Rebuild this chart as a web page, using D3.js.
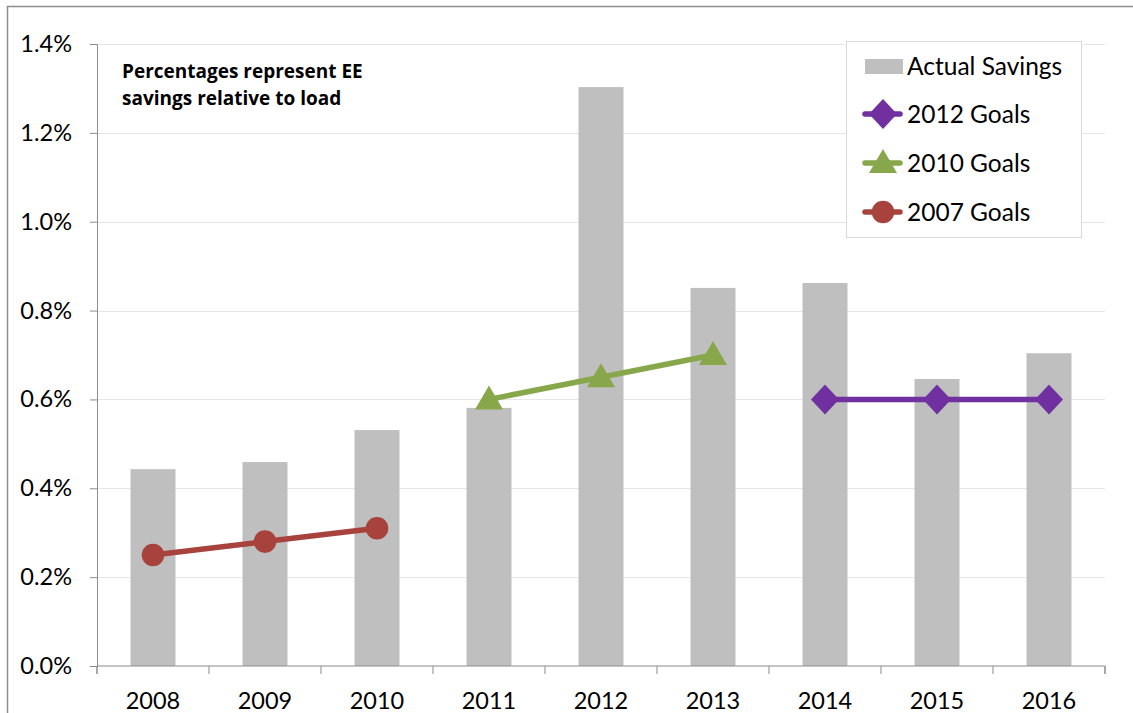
<!DOCTYPE html>
<html><head><meta charset="utf-8">
<script src="https://cdn.jsdelivr.net/npm/d3@7"></script>
<style>body{margin:0;background:#fff}svg{display:block}</style>
</head><body><svg id="c" width="1133" height="713"></svg>
<script>
const years = ["2008","2009","2010","2011","2012","2013","2014","2015","2016"];
const actualSavings = [0.443,0.459,0.531,0.581,1.303,0.851,0.862,0.646,0.704];
const goals2007Years = ["2008","2009","2010"];
const goals2007 = [0.25,0.28,0.31];
const goals2010Years = ["2011","2012","2013"];
const goals2010 = [0.60,0.65,0.70];
const goals2012Years = ["2014","2015","2016"];
const goals2012 = [0.60,0.60,0.60];
const yTicks = [0,0.2,0.4,0.6,0.8,1.0,1.2,1.4];
const legendLabels = ["Actual Savings","2012 Goals","2010 Goals","2007 Goals"];

const FONT = "Lato, 'Open Sans', sans-serif";
const svg = d3.select("#c");
const L=97,R=1105,T=44,B=666;
const xb = d3.scaleBand().domain(years).range([L,R]);
const y = d3.scaleLinear().domain([0,1.4]).range([B,T]);

// frame
svg.append("path").attr("d","M7.5,713 V6.5 H1133").attr("fill","none").attr("stroke","#8c8c8c").attr("stroke-width",1.5);

// grid
svg.append("g").selectAll("line").data(yTicks.slice(1)).join("line")
 .attr("x1",L).attr("x2",R).attr("y1",d=>Math.round(y(d))+0.5).attr("y2",d=>Math.round(y(d))+0.5)
 .attr("stroke","#e6e6e6").attr("stroke-width",1);

// bars
svg.append("g").selectAll("rect").data(years).join("rect")
 .attr("x",d=>xb(d)+xb.bandwidth()/2-22.5).attr("width",45)
 .attr("y",(d,i)=>y(actualSavings[i])).attr("height",(d,i)=>B-y(actualSavings[i]))
 .attr("fill","#bfbfbf");

// axes
const ya = svg.append("g").attr("transform",`translate(${L},0)`)
 .call(d3.axisLeft(y).tickValues(yTicks).tickFormat(d=>d.toFixed(1)+"%").tickSize(7).tickPadding(18));
ya.select(".domain").attr("stroke","#8c8c8c");
ya.selectAll(".tick line").attr("stroke","#8c8c8c");
ya.selectAll("text").attr("font-family",FONT).attr("font-size",23.5).attr("fill","#000");

const xa = svg.append("g").attr("transform",`translate(0,${B})`)
 .call(d3.axisBottom(xb).tickSize(0).tickPadding(26));
xa.select(".domain").attr("stroke","#8c8c8c").attr("d",`M${L},8V0H${R}V8`);
xa.selectAll("text").attr("font-family",FONT).attr("font-size",23.5).attr("fill","#000");
svg.append("g").selectAll("line").data(d3.range(years.length+1)).join("line")
 .attr("x1",i=>L+i*xb.step()).attr("x2",i=>L+i*xb.step()).attr("y1",B).attr("y2",B+8)
 .attr("stroke","#8c8c8c");

const cx = d=>xb(d)+xb.bandwidth()/2;
const line = d3.line();
function series(ys, vals, color, marker){
  const pts = ys.map((d,i)=>[cx(d),y(vals[i])]);
  svg.append("path").attr("d",line(pts)).attr("fill","none").attr("stroke",color).attr("stroke-width",5.5).attr("stroke-linecap","round");
  svg.append("g").selectAll("path").data(pts).join("path")
   .attr("transform",p=>`translate(${p[0]},${p[1]})`).attr("d",marker).attr("fill",color);
}
const circ = d3.symbol().type(d3.symbolCircle).size(400)();
const tri = "M0,-14 L14,10 L-14,10 Z";
const dia = "M0,-15 L14,0 L0,15 L-14,0 Z";
const RED="#a8423d", GREEN="#88a74a", PURPLE="#7030a0";
series(goals2007Years, goals2007, RED, circ);
series(goals2010Years, goals2010, GREEN, tri);
series(goals2012Years, goals2012, PURPLE, dia);

// annotation
const ann = svg.append("text").attr("font-family","'Open Sans', sans-serif").attr("font-weight","bold").attr("font-size",19).attr("fill","#000");
ann.append("tspan").attr("x",122).attr("y",78).text("Percentages represent EE");
ann.append("tspan").attr("x",122).attr("y",105).text("savings relative to load");

// legend
const lg = svg.append("g");
lg.append("rect").attr("x",846.5).attr("y",41.5).attr("width",235).attr("height",196).attr("fill","#fff").attr("stroke","#d9d9d9");
const ly = [66,114,163,212];
const lcolors = [null,PURPLE,GREEN,RED];
const lmarks = [null,dia,tri,circ];
legendLabels.forEach((t,i)=>{
  if(i===0){ lg.append("rect").attr("x",865).attr("y",ly[i]-7).attr("width",38).attr("height",15).attr("fill","#bfbfbf"); }
  else {
    lg.append("line").attr("x1",865).attr("x2",900).attr("y1",ly[i]).attr("y2",ly[i]).attr("stroke",lcolors[i]).attr("stroke-width",5.5).attr("stroke-linecap","round");
    lg.append("path").attr("transform",`translate(883,${ly[i]})`).attr("d",lmarks[i]).attr("fill",lcolors[i]);
  }
  lg.append("text").attr("x",907).attr("y",ly[i]).attr("dy","0.36em").attr("font-family",FONT).attr("font-size",24.5).text(t);
});
</script></body></html>
